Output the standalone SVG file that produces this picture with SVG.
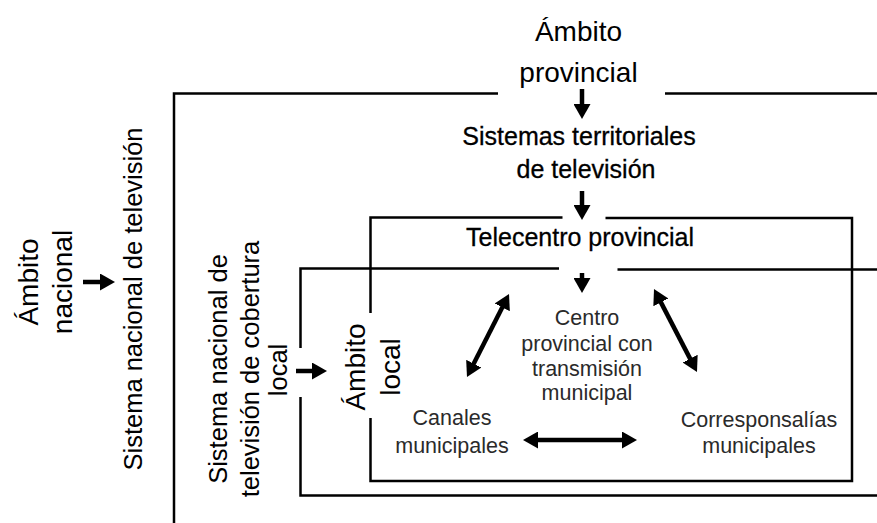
<svg xmlns="http://www.w3.org/2000/svg" width="877" height="523" viewBox="0 0 877 523">
  <style>
    .frame { fill: none; stroke: #000; stroke-width: 2.5; }
    .arr { fill: none; stroke: #000; stroke-width: 4.5; }
    .big { font-family: "Liberation Sans", Arial, sans-serif; font-size: 28px; fill: #000; text-anchor: middle; }
    .mid { font-family: "Liberation Sans", Arial, sans-serif; font-size: 25px; fill: #000; text-anchor: middle; stroke: #000; stroke-width: 0.3; }
    .side { font-family: "Liberation Sans", Arial, sans-serif; font-size: 25.5px; fill: #000; text-anchor: middle; }
    .small { font-family: "Liberation Sans", Arial, sans-serif; font-size: 21.5px; fill: #2a2a2a; text-anchor: middle; }
  </style>
  <defs>
    <marker id="head" viewBox="0 0 15 17" markerWidth="15" markerHeight="17" refX="5" refY="8.5" orient="auto-start-reverse" markerUnits="userSpaceOnUse">
      <path d="M0,0 L15,8.5 L0,17 z" fill="#000"/>
    </marker>
  </defs>
  <rect width="877" height="523" fill="#fff"/>

  <g id="frames">
    <g id="ambito-nacional-frame">
      <polyline class="frame" points="498,93.5 174,93.5 174,523"/>
      <line class="frame" x1="665" y1="93.5" x2="877" y2="93.5"/>
    </g>
    <g id="telecentro-frame">
      <polyline class="frame" points="562.5,217.5 370.5,217.5 370.5,313"/>
      <polyline class="frame" points="605.5,218 852,218 852,481 370.5,481 370.5,418"/>
    </g>
    <g id="local-frame">
      <polyline class="frame" points="559,268.5 300.5,268.5 300.5,348"/>
      <polyline class="frame" points="300.5,397 300.5,495.5 877,495.5"/>
      <line class="frame" x1="617.5" y1="269.5" x2="877" y2="269.5"/>
    </g>
  </g>

  <g id="node-ambito-provincial">
    <text class="big" x="578.5" y="41">Ámbito</text>
    <text class="big" x="578.5" y="82">provincial</text>
  </g>
  <g id="node-sistemas-territoriales">
    <text class="mid" x="579" y="145">Sistemas territoriales</text>
    <text class="mid" x="586" y="178">de televisión</text>
  </g>
  <g id="node-telecentro">
    <text class="mid" x="580" y="246">Telecentro provincial</text>
  </g>
  <g id="node-ambito-nacional">
    <text class="big" transform="translate(38,282) rotate(-90)">Ámbito</text>
    <text class="big" transform="translate(71.5,282) rotate(-90)">nacional</text>
  </g>
  <g id="node-sistema-nacional">
    <text class="side" transform="translate(142,299) rotate(-90)">Sistema nacional de televisión</text>
  </g>
  <g id="node-sistema-cobertura-local">
    <text class="side" transform="translate(226.5,369) rotate(-90)">Sistema nacional de</text>
    <text class="side" transform="translate(258.5,369) rotate(-90)">televisión de cobertura</text>
    <text class="side" transform="translate(287,370) rotate(-90)">local</text>
  </g>
  <g id="node-ambito-local">
    <text class="big" transform="translate(365,367) rotate(-90)">Ámbito</text>
    <text class="big" transform="translate(400,367) rotate(-90)">local</text>
  </g>
  <g id="node-centro-provincial">
    <text class="small" x="587" y="325">Centro</text>
    <text class="small" x="587" y="351">provincial con</text>
    <text class="small" x="587" y="376">transmisión</text>
    <text class="small" x="587" y="400">municipal</text>
  </g>
  <g id="node-canales">
    <text class="small" x="452" y="425">Canales</text>
    <text class="small" x="452" y="453">municipales</text>
  </g>
  <g id="node-corresponsalias">
    <text class="small" x="759" y="427">Corresponsalías</text>
    <text class="small" x="759" y="453">municipales</text>
  </g>

  <g id="connectors">
    <line class="arr" x1="582" y1="89" x2="582" y2="109" marker-end="url(#head)"/>
    <line class="arr" x1="582" y1="191" x2="582" y2="210" marker-end="url(#head)"/>
    <line class="arr" x1="582" y1="273" x2="582" y2="283" marker-end="url(#head)"/>
    <line class="arr" x1="83" y1="282" x2="105" y2="282" marker-end="url(#head)"/>
    <line class="arr" x1="296" y1="371" x2="317" y2="371" marker-end="url(#head)"/>
    <line class="arr" x1="471.5" y1="368.1" x2="504.5" y2="302.9" marker-start="url(#head)" marker-end="url(#head)"/>
    <line class="arr" x1="658.6" y1="297.9" x2="692.4" y2="363.1" marker-start="url(#head)" marker-end="url(#head)"/>
    <line class="arr" x1="533" y1="440" x2="627" y2="440" marker-start="url(#head)" marker-end="url(#head)"/>
  </g>
</svg>
